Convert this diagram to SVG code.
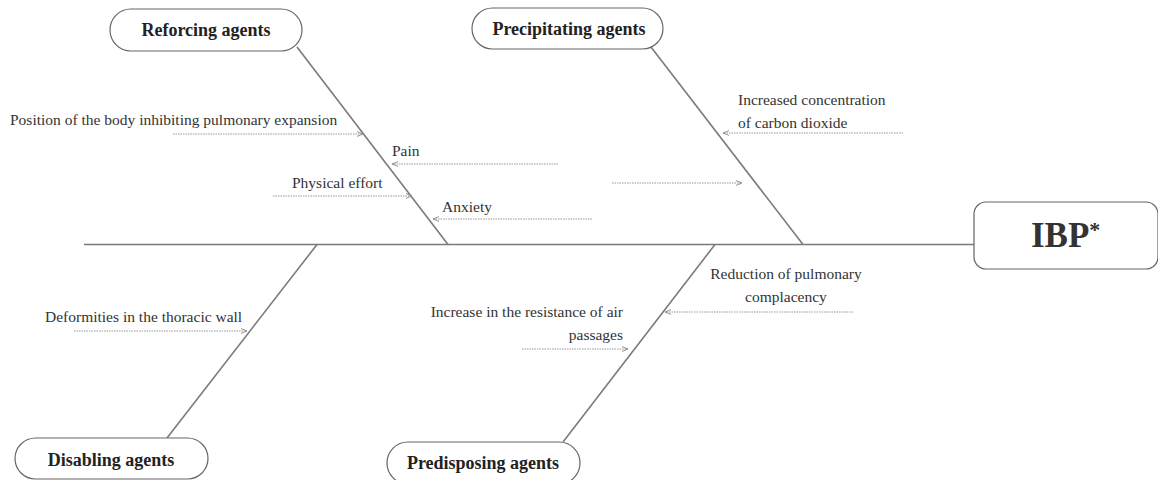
<svg xmlns="http://www.w3.org/2000/svg" width="1158" height="480" viewBox="0 0 1158 480">
<style>
.node{fill:#fff;stroke:#666;stroke-width:1.2}
.nl{font-family:"Liberation Serif",serif;font-weight:bold;font-size:18px;fill:#222;text-anchor:middle}
.t{font-family:"Liberation Serif",serif;font-size:15.5px;fill:#333}
.bone{stroke:#7a7a7a;stroke-width:1.6;fill:none}
.rib{stroke:#999;stroke-width:1;stroke-dasharray:1.5 1;fill:none;marker-end:url(#ah)}
</style>
<defs>
<marker id="ah" viewBox="0 0 10 10" refX="10" refY="5" markerWidth="6" markerHeight="6" markerUnits="userSpaceOnUse" orient="auto">
<path d="M0,1 L10,5 L0,9" fill="none" stroke="#888" stroke-width="1.5"/>
</marker>
</defs>
<g id="connectors">
<line class="bone" x1="84" y1="244.5" x2="975" y2="244.5"/>
<line class="bone" x1="297" y1="47" x2="448" y2="244.5"/>
<line class="bone" x1="651" y1="47" x2="803" y2="244.5"/>
<line class="bone" x1="167" y1="438" x2="317" y2="244.5"/>
<line class="bone" x1="563" y1="442" x2="715" y2="244.5"/>
<line class="rib" x1="173" y1="134" x2="363" y2="134"/>
<line class="rib" x1="558" y1="164" x2="392" y2="164"/>
<line class="rib" x1="273" y1="196" x2="412" y2="196"/>
<line class="rib" x1="592" y1="219" x2="433" y2="219"/>
<line class="rib" x1="903" y1="133" x2="723" y2="133"/>
<line class="rib" x1="612" y1="183" x2="742" y2="183"/>
<line class="rib" x1="74" y1="331" x2="247" y2="331"/>
<line class="rib" x1="522" y1="349" x2="628" y2="349"/>
<line class="rib" x1="853" y1="312" x2="665" y2="312"/>
</g>
<g id="labels">
<text class="t" x="10" y="125">Position of the body inhibiting pulmonary expansion</text>
<text class="t" x="392" y="156">Pain</text>
<text class="t" x="292" y="188">Physical effort</text>
<text class="t" x="442" y="212">Anxiety</text>
<text class="t" x="738" y="105">Increased concentration</text>
<text class="t" x="738" y="128">of carbon dioxide</text>
<text class="t" x="45" y="322">Deformities in the thoracic wall</text>
<text class="t" x="623" y="317" text-anchor="end">Increase in the resistance of air</text>
<text class="t" x="623" y="340" text-anchor="end">passages</text>
<text class="t" x="786" y="279" text-anchor="middle">Reduction of pulmonary</text>
<text class="t" x="786" y="302" text-anchor="middle">complacency</text>
</g>
<g id="node-reforcing">
<rect class="node" x="110" y="9" width="192" height="42" rx="21"/>
<text class="nl" x="206" y="36">Reforcing agents</text>
</g>
<g id="node-precipitating">
<rect class="node" x="472" y="8" width="191" height="41" rx="20.5"/>
<text class="nl" x="569" y="35">Precipitating agents</text>
</g>
<g id="node-disabling">
<rect class="node" x="15" y="438" width="193" height="41" rx="20.5"/>
<text class="nl" x="111" y="466">Disabling agents</text>
</g>
<g id="node-predisposing">
<rect class="node" x="387" y="442" width="193" height="42" rx="21"/>
<text class="nl" x="483" y="469">Predisposing agents</text>
</g>
<g id="node-ibp">
<rect class="node" x="974" y="202" width="184" height="67" rx="12"/>
<text x="1031" y="247" font-family="Liberation Serif,serif" font-weight="bold" font-size="35" fill="#333">IBP<tspan font-size="22" dy="-10">*</tspan></text>
</g>
</svg>
